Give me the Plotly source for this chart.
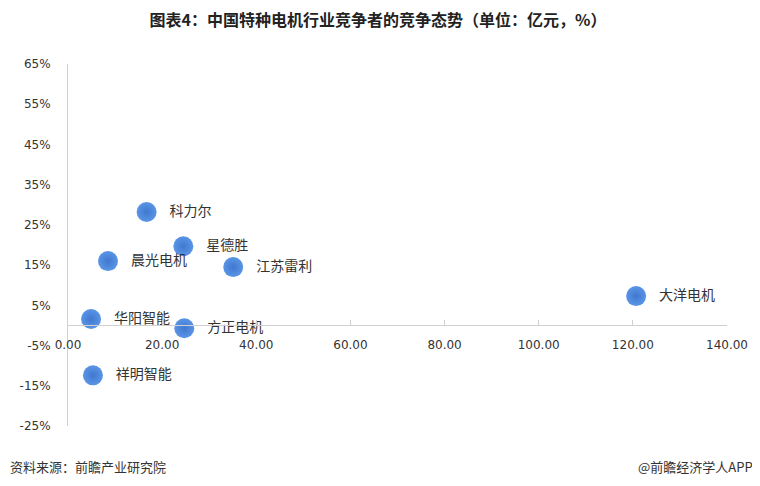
import plotly.graph_objects as go

companies = ["科力尔", "星德胜", "晨光电机", "江苏雷利", "大洋电机", "华阳智能", "方正电机", "祥明智能"]
revenue = [16.7, 24.5, 8.5, 35.1, 120.7, 4.9, 24.7, 5.3]          # 亿元
margin = [28.2, 19.7, 16.0, 14.5, 7.3, 1.6, -0.7, -12.4]           # %

x_ticks = [0, 20, 40, 60, 80, 100, 120, 140]
y_ticks = [-25, -15, -5, 5, 15, 25, 35, 45, 55, 65]

W, H = 752, 478
L, R, T, B = 60, 30, 56, 60
PW, PH = W - L - R, H - T - B

fig = go.Figure()
fig.add_trace(go.Scatter(
    x=revenue, y=margin, mode="markers+text",
    text=["   " + c for c in companies],
    textposition="middle right",
    textfont=dict(family="Noto Sans CJK SC", size=14, color="#333333"),
    marker=dict(size=20, color="#5b95e6",
                gradient=dict(type="radial", color="#3f78cf"),
                line=dict(width=0)),
    cliponaxis=False,
    hoverinfo="skip",
))

fig.update_layout(
    width=W, height=H,
    margin=dict(l=L, r=R, t=T, b=B),
    plot_bgcolor="white", paper_bgcolor="white",
    showlegend=False,
    title=dict(text="<b>图表4：中国特种电机行业竞争者的竞争态势（单位：亿元，%）</b>",
               x=0.492, xanchor="center", y=1 - 12 / H, yanchor="middle",
               font=dict(family="Noto Sans CJK SC", size=16, color="#222222")),
    font=dict(family="DejaVu Sans", color="#333333"),
)

fig.update_xaxes(
    range=[0, 140], tickvals=x_ticks, ticktext=[f"{v:.2f}" for v in x_ticks],
    anchor="free", position=25 / 90,
    showline=True, linecolor="#d0d0d0", linewidth=1,
    ticks="inside", ticklen=5, tickcolor="#d0d0d0",
    ticklabelstandoff=8,
    showgrid=False, zeroline=False,
    tickfont=dict(family="DejaVu Sans", size=12, color="#333333"),
)
fig.update_yaxes(
    range=[-25, 65], tickvals=y_ticks, ticktext=[f"{v}%" for v in y_ticks],
    showline=True, linecolor="#d0d0d0", linewidth=1,
    ticks="", showgrid=False, zeroline=False,
    ticklabelstandoff=14,
    tickfont=dict(family="DejaVu Sans", size=12, color="#333333"),
)

fig.add_annotation(text="资料来源：前瞻产业研究院", xref="paper", yref="paper",
                   x=-(L - 0) / PW, y=-40 / PH, xanchor="left", yanchor="middle",
                   showarrow=False,
                   font=dict(family="Noto Sans CJK SC", size=13, color="#333333"))
fig.add_annotation(text="@前瞻经济学人APP", xref="paper", yref="paper",
                   x=1 + (R - 2) / PW, y=-40 / PH, xanchor="right", yanchor="middle",
                   showarrow=False,
                   font=dict(family="Noto Sans CJK SC", size=13, color="#333333"))

fig.write_html("out.html")
